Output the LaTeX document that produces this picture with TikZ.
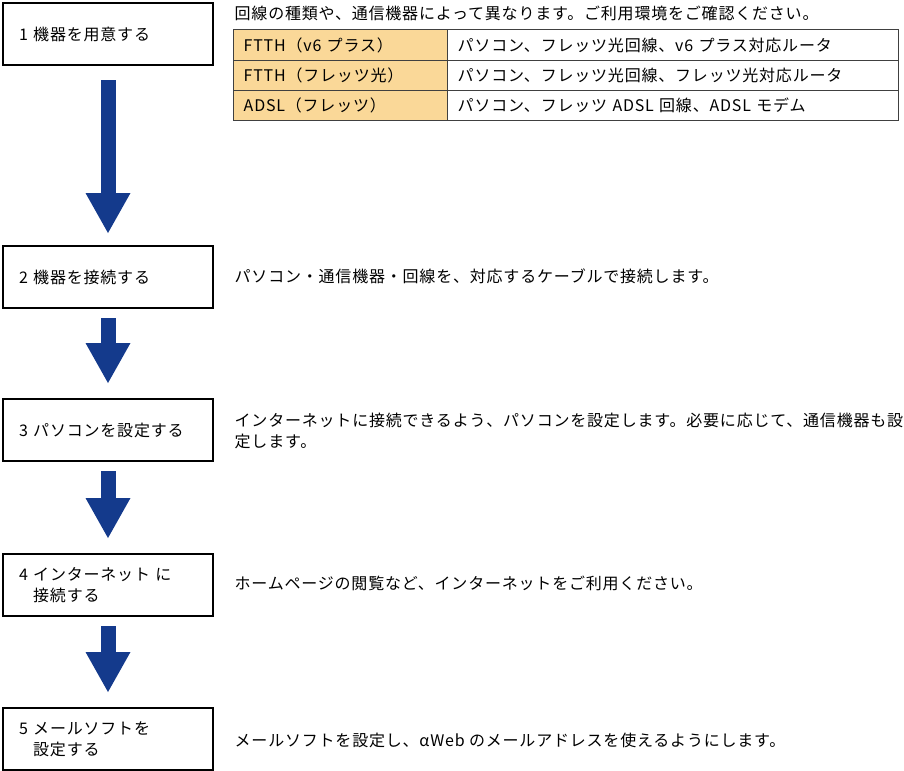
\documentclass[tikz,border=0pt]{standalone}
\usepackage{fontspec}
\setmainfont[LetterSpace=5]{Noto Sans CJK JP}
\usepackage{tikz}
\usetikzlibrary{arrows.meta}
\definecolor{navyarrow}{RGB}{20,58,140}
\definecolor{kindfill}{RGB}{250,216,152}
\definecolor{rulegray}{RGB}{64,64,64}
\tikzset{
  stepbox/.style={draw=black, line width=1.5pt, anchor=north west, inner xsep=12pt, text width=133.5pt, minimum height=46.5pt, align=left},
  kindcell/.style={draw=rulegray, fill=kindfill, line width=1.1pt, anchor=north west, inner xsep=7.5pt, text width=145.5pt, minimum height=#1, align=left},
  gearcell/.style={draw=rulegray, line width=1.1pt, anchor=north west, inner xsep=7.5pt, text width=323.25pt, minimum height=#1, align=left},
  bigarrow/.style={draw=navyarrow, line width=11.25pt, -{Triangle[length=30pt, width=33.75pt, line width=0pt]}, shorten <=6.75pt, shorten >=11.25pt}
}

\begin{document}
\begin{tikzpicture}[x=0.75pt, y=-0.75pt, font=\fontsize{12pt}{15.75pt}\selectfont]
	\useasboundingbox (0,0) rectangle (904,771);
	% steps
	\node[stepbox] (box1) at (2,2) {1 機器を用意する};
	\node[stepbox] (box2) at (2,245) {2 機器を接続する};
	\node[stepbox] (box3) at (2,398) {3 パソコンを設定する};
	\node[stepbox] (box4) at (2,553) {4 インターネット に\\\phantom{4 }接続する};
	\node[stepbox] (box5) at (2,707) {5 メールソフトを\\\phantom{5 }設定する};
	% arrows
	\draw[bigarrow, shorten <=10.5pt, shorten >=9pt] (box1.south) -- (box2.north);
	\draw[bigarrow] (box2.south) -- (box3.north);
	\draw[bigarrow] (box3.south) -- (box4.north);
	\draw[bigarrow] (box4.south) -- (box5.north);
	% descriptions
	\node[anchor=west] (desc1) at (230,13) {回線の種類や、通信機器によって異なります。ご利用環境をご確認ください。};
	\node[kindcell=23.25pt] (kind1) at (233,29) {FTTH（v6 プラス）};
	\node[gearcell=23.25pt] (gear1) at (447,29) {パソコン、フレッツ光回線、v6 プラス対応ルータ};
	\node[kindcell=22.5pt] (kind2) at (233,60) {FTTH（フレッツ光）};
	\node[gearcell=22.5pt] (gear2) at (447,60) {パソコン、フレッツ光回線、フレッツ光対応ルータ};
	\node[kindcell=22.5pt] (kind3) at (233,90) {ADSL（フレッツ）};
	\node[gearcell=22.5pt] (gear3) at (447,90) {パソコン、フレッツ ADSL 回線、ADSL モデム};
	\node[anchor=west] (desc2) at (230,276) {パソコン・通信機器・回線を、対応するケーブルで接続します。};
	\node[anchor=west, align=left] (desc3) at (230,430.5) {インターネットに接続できるよう、パソコンを設定します。必要に応じて、通信機器も設\\定します。};
	\node[anchor=west] (desc4) at (230,583) {ホームページの閲覧など、インターネットをご利用ください。};
	\node[anchor=west] (desc5) at (230,740) {メールソフトを設定し、αWeb のメールアドレスを使えるようにします。};
\end{tikzpicture}
\end{document}
